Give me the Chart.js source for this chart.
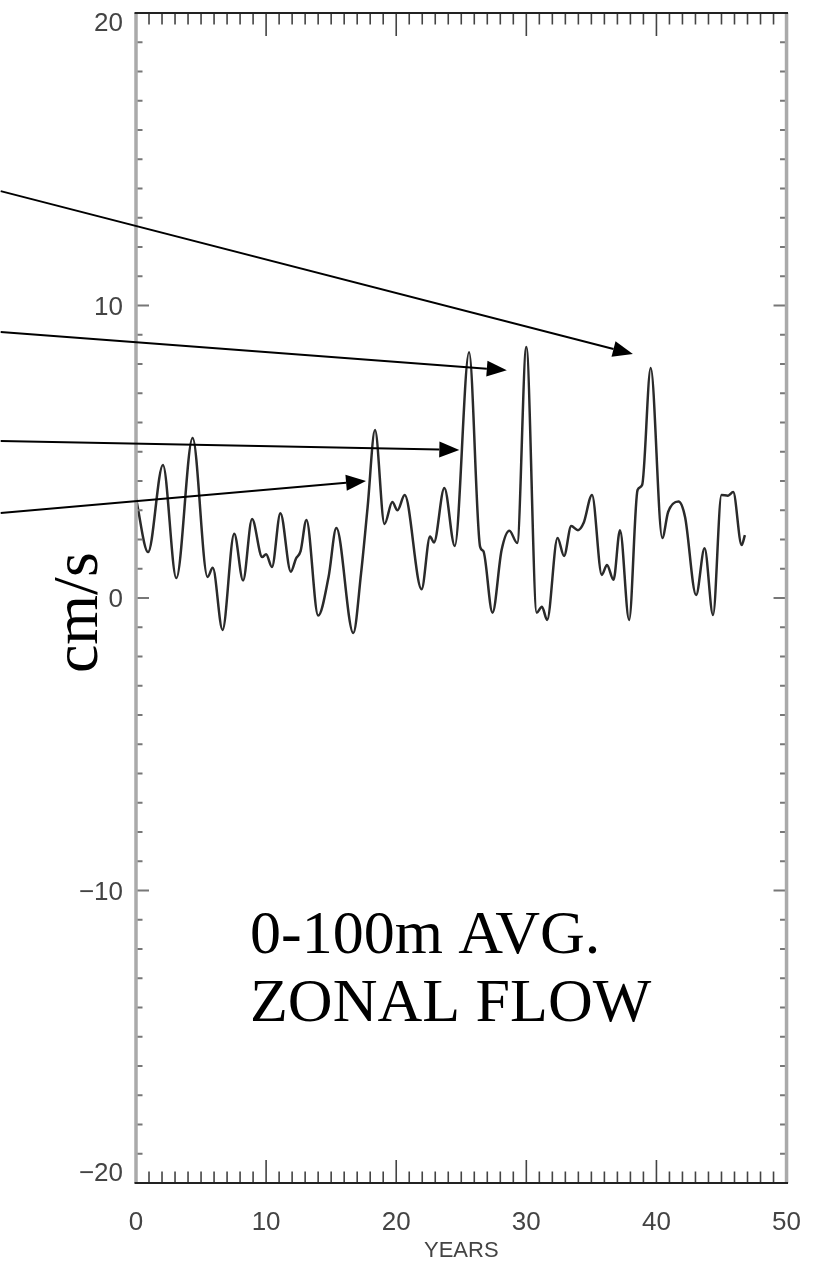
<!DOCTYPE html>
<html><head><meta charset="utf-8">
<script src="https://cdn.jsdelivr.net/npm/chart.js@4.4.1/dist/chart.umd.min.js"></script>
<style>html,body{margin:0;padding:0;background:#fff;} #wrap{width:817px;height:1272px;position:relative;}</style>
</head><body><div id="wrap"><canvas id="c" width="817" height="1272"></canvas></div>
<script>
// ---- data ----
const years = [0.0,0.93,2.07,3.1,4.35,5.5,5.9,6.65,7.55,8.23,8.92,9.7,10.0,10.45,11.1,11.9,12.3,12.65,13.1,14.0,14.8,15.4,16.7,17.3,17.8,18.37,19.1,19.7,20.1,20.65,21.95,22.6,22.9,23.7,24.5,25.6,26.45,26.7,27.4,28.1,28.7,29.3,30.0,30.8,31.2,31.6,32.4,32.9,33.45,33.97,34.4,35.05,35.8,36.2,36.7,37.2,37.9,38.55,38.9,39.56,40.45,40.9,41.7,42.2,43.05,43.7,44.35,45.0,45.5,45.9,46.55,46.8];
const flow  = [3.4,1.57,4.55,0.68,5.47,0.72,1.03,-1.09,2.2,0.6,2.7,1.4,1.5,1.06,2.9,0.9,1.35,1.6,2.67,-0.6,0.72,2.39,-1.2,0.85,3.1,5.74,2.53,3.28,3.0,3.52,0.3,2.1,1.9,3.76,1.78,8.4,1.75,1.6,-0.5,1.64,2.3,1.88,8.58,-0.5,-0.3,-0.75,2.05,1.44,2.46,2.32,2.56,3.52,0.79,1.13,0.62,2.32,-0.75,3.69,3.86,7.86,2.05,2.94,3.3,2.77,0.1,1.7,-0.58,3.52,3.5,3.62,1.81,2.15];
const xTicks = [0,10,20,30,40,50];
const yTicks = [20,10,0,-10,-20];
const yTickLabels = ['20','10','0','\u221210','\u221220'];
const arrowFrom = [[-10.4,13.91],[-10.4,9.09],[-10.4,5.37],[-10.4,2.91]];
const arrowTo   = [[38.19,8.34],[28.5,7.79],[24.85,5.06],[17.68,4.0]];
const noteLines = ['0-100m AVG.','ZONAL FLOW'];
const yTitle = 'cm/s';
const xTitle = 'YEARS';

const framePlugin = {
  id: 'frame',
  afterDraw(chart) {
    const {ctx, chartArea: a, scales: {x, y}} = chart;
    ctx.save();
    // x ticks (inward, top and bottom)
    for (let v = 0; v <= 50; v++) {
      const px = x.getPixelForValue(v);
      const L = (v % 10 === 0) ? 23 : 11.5;
      ctx.strokeStyle = '#444'; ctx.lineWidth = 1.6;
      ctx.beginPath();
      ctx.moveTo(px, a.top); ctx.lineTo(px, a.top + L);
      ctx.moveTo(px, a.bottom); ctx.lineTo(px, a.bottom - L);
      ctx.stroke();
    }
    // y ticks (inward, left and right)
    for (let v = -20; v <= 20; v++) {
      const py = y.getPixelForValue(v);
      const L = (v % 10 === 0) ? 13 : 6.5;
      ctx.strokeStyle = '#777'; ctx.lineWidth = 2;
      ctx.beginPath();
      ctx.moveTo(a.left, py); ctx.lineTo(a.left + L, py);
      ctx.moveTo(a.right, py); ctx.lineTo(a.right - L, py);
      ctx.stroke();
    }
    // borders
    ctx.strokeStyle = '#aaa'; ctx.lineWidth = 3.5;
    ctx.beginPath();
    ctx.moveTo(a.left, a.top); ctx.lineTo(a.left, a.bottom);
    ctx.moveTo(a.right, a.top); ctx.lineTo(a.right, a.bottom);
    ctx.stroke();
    ctx.strokeStyle = '#222'; ctx.lineWidth = 2;
    ctx.beginPath();
    ctx.moveTo(a.left - 1.5, a.top); ctx.lineTo(a.right + 1.5, a.top);
    ctx.moveTo(a.left - 1.5, a.bottom); ctx.lineTo(a.right + 1.5, a.bottom);
    ctx.stroke();
    // y tick labels
    ctx.fillStyle = '#444';
    ctx.font = '26px "Liberation Sans", Arial, sans-serif';
    ctx.textAlign = 'right'; ctx.textBaseline = 'middle';
    yTicks.forEach((v, i) => {
      let py = y.getPixelForValue(v);
      py = Math.min(Math.max(py + 2, a.top + 11), a.bottom - 9);
      ctx.fillText(yTickLabels[i], a.left - 13, py);
    });
    // y title
    ctx.save();
    ctx.fillStyle = '#000';
    ctx.font = '64px "Liberation Serif", "Times New Roman", serif';
    ctx.translate(80, y.getPixelForValue(-0.5));
    ctx.rotate(-Math.PI / 2);
    ctx.textAlign = 'center'; ctx.textBaseline = 'middle';
    ctx.fillText(yTitle, 0, 0);
    ctx.restore();
    // arrows
    ctx.strokeStyle = '#000'; ctx.fillStyle = '#000'; ctx.lineWidth = 2;
    arrowFrom.forEach((f, i) => {
      const x0 = x.getPixelForValue(f[0]), y0 = y.getPixelForValue(f[1]);
      const x1 = x.getPixelForValue(arrowTo[i][0]), y1 = y.getPixelForValue(arrowTo[i][1]);
      const dx = x1 - x0, dy = y1 - y0, len = Math.hypot(dx, dy);
      const ux = dx / len, uy = dy / len, nx = -uy, ny = ux;
      const HL = 20, HW = 8;
      const bx = x1 - ux * HL, by = y1 - uy * HL;
      ctx.beginPath(); ctx.moveTo(x0, y0); ctx.lineTo(bx, by); ctx.stroke();
      ctx.beginPath();
      ctx.moveTo(x1, y1);
      ctx.lineTo(bx + nx * HW, by + ny * HW);
      ctx.lineTo(bx - nx * HW, by - ny * HW);
      ctx.closePath(); ctx.fill();
    });
    // note text
    ctx.fillStyle = '#000';
    ctx.font = '62px "Liberation Serif", "Times New Roman", serif';
    ctx.textAlign = 'left'; ctx.textBaseline = 'alphabetic';
    ctx.fillText(noteLines[0], 250, 953);
    ctx.fillText(noteLines[1], 250, 1021);
    ctx.restore();
  }
};

new Chart(document.getElementById('c'), {
  type: 'line',
  data: {
    datasets: [{
      data: years.map((t, i) => ({x: t, y: flow[i]})),
      borderColor: '#2a2a2a',
      borderWidth: 2.5,
      pointRadius: 0,
      cubicInterpolationMode: 'monotone',
      fill: false
    }]
  },
  options: {
    responsive: false,
    animation: false,
    devicePixelRatio: 1,
    layout: {padding: {left: 0, right: 25, top: 13, bottom: 0}},
    plugins: {legend: {display: false}, tooltip: {enabled: false}},
    scales: {
      x: {
        type: 'linear', min: 0, max: 50,
        afterBuildTicks: s => { s.ticks = xTicks.map(v => ({value: v})); },
        ticks: {font: {family: '"Liberation Sans", Arial, sans-serif', size: 26}, color: '#444', padding: 16, maxRotation: 0, autoSkip: false},
        grid: {display: false},
        border: {display: false},
        title: {display: true, text: xTitle, color: '#444', font: {family: '"Liberation Sans", Arial, sans-serif', size: 22}, padding: {top: 0, bottom: 8}},
        afterFit: s => { s.height = 89; }
      },
      y: {
        type: 'linear', min: -20, max: 20,
        ticks: {display: false},
        grid: {display: false},
        border: {display: false},
        afterFit: s => { s.width = 136; }
      }
    }
  },
  plugins: [framePlugin]
});
</script>
</body></html>
